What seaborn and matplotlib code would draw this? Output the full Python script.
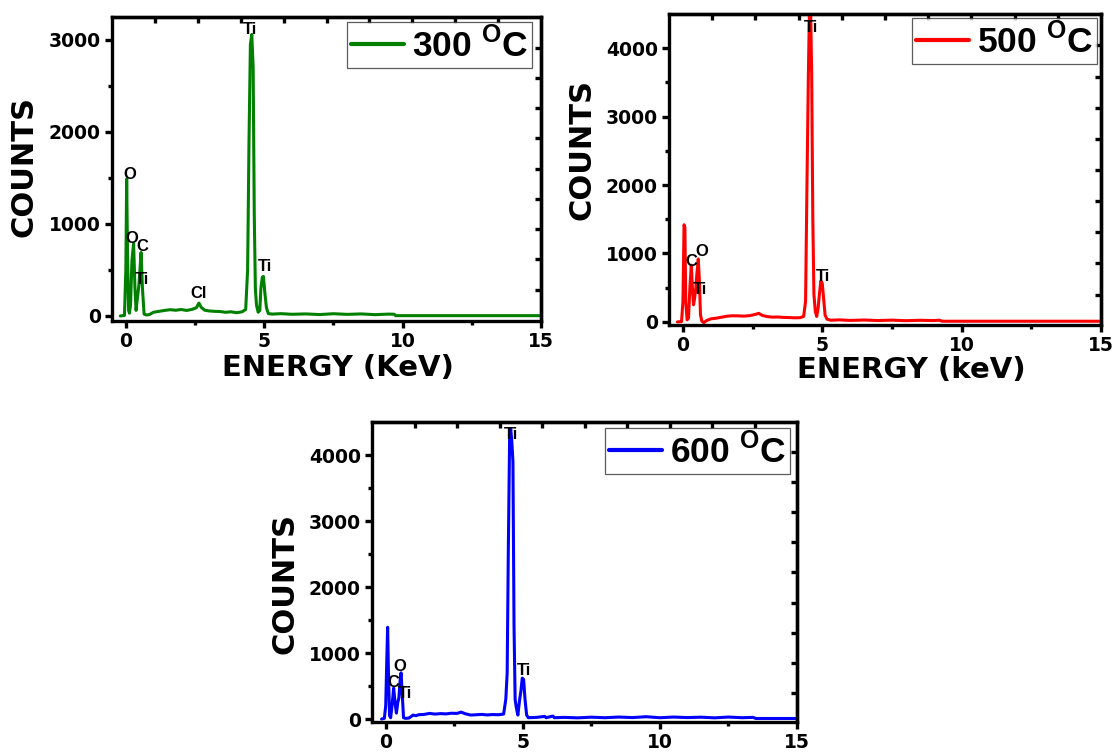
import matplotlib
matplotlib.use("Agg")
import matplotlib.pyplot as plt
import pandas as pd
import seaborn as sns

# ---------------- data ----------------
energy_300 = [-0.2, -0.05, 0.0, 0.03, 0.06, 0.1, 0.13, 0.17, 0.22, 0.28, 0.33, 0.37,
              0.42, 0.47, 0.51, 0.55, 0.6, 0.66, 0.75, 0.85, 1.0, 1.2, 1.4, 1.6, 1.8,
              2.0, 2.2, 2.4, 2.55, 2.64, 2.72, 2.85, 3.0, 3.2, 3.4, 3.6, 3.8, 4.0, 4.2,
              4.33, 4.4, 4.45, 4.5, 4.55, 4.6, 4.64, 4.68, 4.72, 4.78, 4.84, 4.88, 4.93,
              4.97, 5.02, 5.08, 5.15, 5.3, 5.6, 6.0, 6.5, 7.0, 7.5, 8.0, 8.5, 9.0, 9.5,
              9.7, 9.75, 12.0, 15.0]
counts_300 = [0, 5, 500, 1490, 700, 60, 30, 120, 600, 790, 300, 60,
              200, 330, 500, 690, 300, 20, 10, 15, 40, 50, 60, 68, 62,
              70, 60, 72, 90, 140, 95, 62, 55, 50, 48, 40, 45, 35, 45,
              70, 500, 1900, 2950, 3060, 2700, 1100, 300, 120, 40, 60, 300, 420,
              430, 260, 90, 25, 20, 25, 18, 22, 15, 24, 17, 22, 14, 20,
              18, 3, 3, 3]

energy_500 = [-0.2, -0.05, 0.0, 0.04, 0.07, 0.1, 0.15, 0.2, 0.25, 0.3, 0.34, 0.38,
              0.42, 0.46, 0.5, 0.55, 0.59, 0.63, 0.68, 0.75, 0.85, 1.0, 1.2, 1.4, 1.6,
              1.8, 2.0, 2.2, 2.4, 2.6, 2.72, 2.85, 3.0, 3.2, 3.4, 3.6, 3.8, 4.0, 4.2,
              4.33, 4.4, 4.45, 4.5, 4.54, 4.58, 4.62, 4.66, 4.7, 4.75, 4.8, 4.85, 4.9,
              4.95, 5.0, 5.05, 5.1, 5.17, 5.3, 5.6, 6.0, 6.5, 7.0, 7.5, 8.0, 8.5, 9.0,
              9.2, 9.3, 12.0, 15.0]
counts_500 = [0, 5, 300, 1420, 1380, 300, 30, 60, 500, 830, 500, 250,
              350, 480, 700, 920, 600, 100, 10, -10, 20, 45, 55, 70, 85,
              90, 88, 85, 92, 110, 125, 95, 80, 70, 72, 66, 64, 60, 62,
              80, 300, 2000, 3600, 4600, 4600, 3600, 1500, 400, 150, 80, 200, 420,
              600, 560, 330, 100, 40, 25, 30, 22, 28, 20, 26, 18, 24, 20,
              25, 10, 10, 10]

energy_600 = [-0.15, -0.05, 0.0, 0.04, 0.07, 0.1, 0.14, 0.18, 0.23, 0.29, 0.34, 0.39,
              0.44, 0.48, 0.53, 0.56, 0.6, 0.65, 0.72, 0.85, 1.0, 1.1, 1.2, 1.4, 1.6,
              1.8, 2.0, 2.2, 2.4, 2.6, 2.75, 2.9, 3.1, 3.3, 3.5, 3.7, 3.9, 4.1, 4.3,
              4.38, 4.43, 4.47, 4.52, 4.56, 4.6, 4.64, 4.68, 4.72, 4.76, 4.82, 4.88, 4.93,
              4.98, 5.03, 5.08, 5.14, 5.2, 5.5, 5.8, 5.85, 6.1, 6.15, 6.5, 7.0, 7.5, 8.0,
              8.5, 9.0, 9.5, 10.0, 10.5, 11.0, 11.5, 12.0, 12.5, 13.0, 13.4, 13.5, 15.0]
counts_600 = [0, 10, 200, 900, 1390, 700, 50, 20, 200, 470, 250, 90,
              250, 320, 600, 700, 400, 20, 10, 15, 60, 50, 65, 70, 85,
              75, 82, 78, 88, 85, 105, 80, 60, 65, 70, 62, 68, 65, 75,
              300, 700, 2500, 4300, 4390, 4200, 3900, 1400, 300, 180, 60, 280, 420,
              620, 600, 300, 60, 20, 25, 40, 20, 45, 20, 25, 18, 28, 20,
              30, 22, 35, 20, 30, 22, 28, 18, 30, 20, 25, 8, 8]

legend_labels = ["300 $^{\\mathbf{O}}$C", "500 $^{\\mathbf{O}}$C", "600 $^{\\mathbf{O}}$C"]
line_colors = ["#008000", "#ff0000", "#0000ff"]

x_major = [0, 5, 10, 15]
x_minor = [2.5, 7.5, 12.5]
yticks_300 = [0, 1000, 2000, 3000]
yminor_300 = [500, 1500, 2500]
yticks_hi = [0, 1000, 2000, 3000, 4000]
yminor_hi = [500, 1500, 2500, 3500]

top_ticks = [1.05, 2.6, 4.15, 5.7, 7.25, 8.8, 10.35, 11.9, 13.45]
right_ticks_300 = [2917, 2588, 2259, 1930, 1601, 1272, 943, 614, 285]
right_ticks_hi = [4040, 3585, 3130, 2675, 2220, 1765, 1310, 855, 400]

peaks_300 = [("O", 0.13, 1536), ("O", 0.23, 846), ("C", 0.6, 755), ("Ti", 0.6, 392),
             ("Cl", 2.61, 247), ("Ti", 4.5, 3116), ("Ti", 5.02, 537)]
peaks_500 = [("C", 0.29, 878), ("O", 0.68, 1024), ("Ti", 0.6, 478),
             ("Ti", 4.58, 4307), ("Ti", 5.04, 663)]
peaks_600 = [("C", 0.29, 546), ("O", 0.52, 790), ("Ti", 0.72, 385),
             ("Ti", 4.56, 4316), ("Ti", 5.06, 739)]

# ---------------- style ----------------
sns.set_style("ticks")
plt.rcParams['font.family'] = ['DejaVu Sans']
plt.rcParams['font.weight'] = 'bold'
plt.rcParams['text.color'] = 'black'
plt.rcParams['axes.labelcolor'] = 'black'
plt.rcParams['xtick.color'] = 'black'
plt.rcParams['ytick.color'] = 'black'
plt.rcParams['axes.edgecolor'] = 'black'
plt.rcParams['mathtext.fontset'] = 'custom'
plt.rcParams['mathtext.rm'] = 'Liberation Sans'
plt.rcParams['mathtext.bf'] = 'Liberation Sans:bold'

fig = plt.figure(figsize=(11.2, 7.52), dpi=100)
W, H = 1120, 752


def rect(l, r, t, b):
    return [l / W, 1 - b / H, (r - l) / W, (b - t) / H]


def panel(box, energy, counts, color, label, yt, ym, ylim, rticks, peaks,
          xlabel, ylab_xy, xlab_xy, leg_anchor):
    ax = fig.add_axes(box)
    df = pd.DataFrame({"Energy": energy, "Counts": counts})
    sns.lineplot(data=df, x="Energy", y="Counts", ax=ax, color=color, lw=2.2,
                 label=label, estimator=None, sort=False)
    ax.set_xlim(-0.5, 15)
    ax.set_ylim(*ylim)
    ax.set_xticks(x_major)
    ax.set_xticks(x_minor, minor=True)
    ax.set_yticks(yt)
    ax.set_yticks(ym, minor=True)
    ax.tick_params(which='major', direction='out', length=5, width=2.4,
                   labelsize=13.5, pad=3, colors='black')
    ax.tick_params(which='minor', direction='out', length=3, width=2.4, colors='black')
    for s in ax.spines.values():
        s.set_linewidth(2.4)
        s.set_color('black')
    for lbl in ax.get_xticklabels() + ax.get_yticklabels():
        lbl.set_fontweight('bold')
        lbl.set_color('black')

    sx = ax.secondary_xaxis('top')
    sx.set_xticks(top_ticks)
    sx.tick_params(axis='x', which='both', direction='in', length=4, width=2.4,
                   labeltop=False, labelbottom=False, colors='black')
    sx.spines['top'].set_linewidth(2.4)
    sx.spines['top'].set_color('black')
    sy = ax.secondary_yaxis('right')
    sy.set_yticks(rticks)
    sy.tick_params(axis='y', which='both', direction='in', length=4, width=2.4,
                   labelright=False, labelleft=False, colors='black')
    sy.spines['right'].set_linewidth(2.4)
    sy.spines['right'].set_color('black')

    for name, px, py in peaks:
        ax.text(px, py, name, fontsize=12, fontweight='bold', family='Liberation Sans',
                ha='center', va='center', color='black')

    ax.set_ylabel("COUNTS", fontsize=22, fontweight='bold', va='center', color='black')
    ax.yaxis.set_label_coords(*ylab_xy)
    if xlabel:
        ax.set_xlabel(xlabel, fontsize=21, fontweight='bold', va='center', color='black')
        ax.xaxis.set_label_coords(*xlab_xy)
    else:
        ax.set_xlabel("")

    leg = ax.legend(loc='upper right', bbox_to_anchor=leg_anchor, borderaxespad=0,
                    frameon=True, fancybox=False, edgecolor='#333333',
                    prop={'family': 'Liberation Sans', 'weight': 'bold', 'size': 25.5},
                    handlelength=1.5, handletextpad=0.22, borderpad=0.12,
                    labelcolor='black')
    leg.get_frame().set_linewidth(0.9)
    for h in leg.get_lines():
        h.set_linewidth(3)
    return ax


panel(rect(112, 541, 17, 321), energy_300, counts_300, line_colors[0], legend_labels[0],
      yticks_300, yminor_300, (-55, 3250), right_ticks_300, peaks_300,
      "ENERGY (KeV)", (-0.205, 0.507), (0.527, -0.155), (0.979, 0.984))

panel(rect(669, 1101, 14, 325), energy_500, counts_500, line_colors[1], legend_labels[1],
      yticks_hi, yminor_hi, (-45, 4500), right_ticks_hi, peaks_500,
      "ENERGY (keV)", (-0.201, 0.563), (0.56, -0.145), (0.991, 0.987))

panel(rect(372, 797, 422, 722), energy_600, counts_600, line_colors[2], legend_labels[2],
      yticks_hi, yminor_hi, (-45, 4500), right_ticks_hi, peaks_600,
      None, (-0.205, 0.46), None, (0.984, 0.98))

fig.savefig("out.png", dpi=100)
